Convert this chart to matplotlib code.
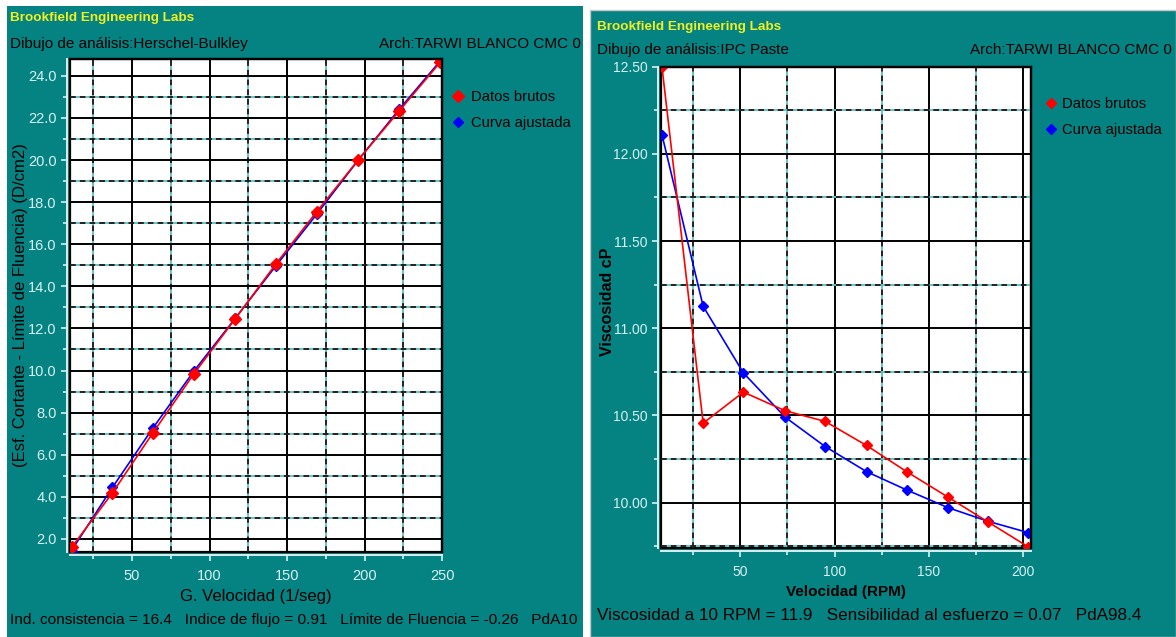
import numpy as np
import matplotlib
matplotlib.use("Agg")
from matplotlib import pyplot as plt
from matplotlib.patches import Rectangle
from matplotlib.ticker import MultipleLocator, FormatStrFormatter
from matplotlib.lines import Line2D

# --- datos del panel izquierdo (Herschel-Bulkley) ---
hb_vel = [11, 37.4, 63.4, 90, 116.6, 142.8, 169.1, 196, 222.4, 249]
hb_brutos = [1.6, 4.19, 7.03, 9.85, 12.46, 15.06, 17.54, 20.01, 22.33, 24.66]
hb_ajust = [1.45, 4.45, 7.26, 9.98, 12.48, 14.97, 17.42, 20.0, 22.41, 24.72]

# --- datos del panel derecho (IPC Paste) ---
ipc_rpm = [8.3, 30.2, 51.6, 73.8, 95, 117, 138.3, 160.4, 181.6, 203]
ipc_brutos = [12.5, 10.456, 10.634, 10.527, 10.466, 10.328, 10.178, 10.031, 9.889, 9.746]
ipc_ajust = [12.11, 11.126, 10.744, 10.49, 10.322, 10.178, 10.073, 9.971, 9.893, 9.828]

W, H = 1176, 637
TEAL = "#058282"
LIGHT = "#d6f2f2"
plt.rcParams["font.family"] = ["Liberation Sans", "DejaVu Sans"]


def fx(x):
    return x / W


def fy(y):
    return 1 - y / H


def ejes(fig, x0, x1, y0, y1, tsize):
    ax = fig.add_axes([fx(x0), fy(y1), fx(x1 - x0), (y1 - y0) / H])
    ax.set_facecolor("white")
    ax.patch.set_edgecolor("black")
    ax.patch.set_linewidth(1.6)
    for s in ["left", "bottom"]:
        ax.spines[s].set_position(("outward", 2.5))
        ax.spines[s].set_color(LIGHT)
        ax.spines[s].set_linewidth(1.4)
    for s in ["top", "right"]:
        ax.spines[s].set_color("black")
        ax.spines[s].set_linewidth(1.6)
    ax.tick_params(which="both", colors=LIGHT, labelcolor=LIGHT, labelsize=tsize, width=1.2)
    ax.tick_params(which="major", length=4)
    ax.tick_params(which="minor", length=3)
    ax.tick_params(axis="x", pad=6)
    ax.tick_params(axis="y", pad=3)
    ax.grid(True, which="major", color="black", linewidth=1.4, linestyle="-")
    ax.grid(True, which="minor", color="#202020", linewidth=1.4, linestyle=(0, (3, 2)),
            gapcolor="#5cc8c8")
    ax.set_axisbelow(True)
    return ax


fig = plt.figure(figsize=(W / 100, H / 100), dpi=100, facecolor="white")

# fondos de los paneles
fig.add_artist(Rectangle((fx(7), 0), fx(583 - 7), fy(6), transform=fig.transFigure,
                         facecolor=TEAL, edgecolor="none", zorder=0))
fig.add_artist(Rectangle((fx(590), 0), fx(W - 590), fy(10), transform=fig.transFigure,
                         facecolor=TEAL, edgecolor="#c8c8c8", linewidth=1, zorder=0))

# ---------- panel izquierdo ----------
ax1 = ejes(fig, 70, 442, 59, 552, 10.5)
ax1.set_xlim(10, 250)
ax1.set_ylim(1.38, 24.8)
ax1.xaxis.set_major_locator(MultipleLocator(50))
ax1.xaxis.set_minor_locator(MultipleLocator(25))
ax1.yaxis.set_major_locator(MultipleLocator(2))
ax1.yaxis.set_minor_locator(MultipleLocator(1))
ax1.yaxis.set_major_formatter(FormatStrFormatter("%.1f"))
ax1.plot(hb_vel, hb_ajust, "-D", color="blue", markersize=5, linewidth=1.2)
ax1.plot(hb_vel, hb_brutos, "-D", color="red", markersize=6, linewidth=1.2)

fig.text(fx(10), fy(18), "Brookfield Engineering Labs", color="#f0f020", fontsize=9.7,
         fontweight="bold", va="center")
fig.text(fx(10), fy(44), "Dibujo de análisis:Herschel-Bulkley", color="black",
         fontsize=11, va="center")
fig.text(fx(581), fy(44), "Arch:TARWI BLANCO CMC 0", color="black", fontsize=11,
         va="center", ha="right")
fig.text(fx(21), fy(305), "(Esf. Cortante - Límite de Fluencia) (D/cm2)", color="black",
         fontsize=12, rotation=90, va="center", ha="center")
fig.text(fx(256), fy(597), "G. Velocidad (1/seg)", color="black", fontsize=12,
         va="center", ha="center")
fig.text(fx(10), fy(620),
         "Ind. consistencia = 16.4   Indice de flujo = 0.91   Límite de Fluencia = -0.26   PdA10",
         color="black", fontsize=11.1, va="center")

h1 = [Line2D([], [], color="red", marker="D", linestyle="", markersize=6),
      Line2D([], [], color="blue", marker="D", linestyle="", markersize=5)]
fig.legend(h1, ["Datos brutos", "Curva ajustada"], loc="upper left",
           bbox_to_anchor=(fx(446), fy(84)), frameon=False, fontsize=10.6,
           handlelength=0.8, handletextpad=0.5, labelspacing=0.85, borderaxespad=0)

# ---------- panel derecho ----------
ax2 = ejes(fig, 661, 1031, 66.7, 548, 10)
ax2.set_xlim(7.8, 204.4)
ax2.set_ylim(9.74, 12.5)
ax2.xaxis.set_major_locator(MultipleLocator(50))
ax2.xaxis.set_minor_locator(MultipleLocator(25))
ax2.yaxis.set_major_locator(MultipleLocator(0.5))
ax2.yaxis.set_minor_locator(MultipleLocator(0.25))
ax2.yaxis.set_major_formatter(FormatStrFormatter("%.2f"))
ax2.plot(ipc_rpm, ipc_ajust, "-D", color="blue", markersize=5, linewidth=1.2)
ax2.plot(ipc_rpm, ipc_brutos, "-D", color="red", markersize=5, linewidth=1.2)

fig.text(fx(597), fy(27), "Brookfield Engineering Labs", color="#f0f020", fontsize=9.7,
         fontweight="bold", va="center")
fig.text(fx(597), fy(50), "Dibujo de análisis:IPC Paste", color="black",
         fontsize=11, va="center")
fig.text(fx(1172), fy(50), "Arch:TARWI BLANCO CMC 0", color="black", fontsize=11,
         va="center", ha="right")
fig.text(fx(607), fy(302), "Viscosidad cP", color="black", fontsize=11.5,
         fontweight="bold", rotation=90, va="center", ha="center")
fig.text(fx(846), fy(592), "Velocidad (RPM)", color="black", fontsize=11,
         fontweight="bold", va="center", ha="center")
fig.text(fx(597), fy(615),
         "Viscosidad a 10 RPM = 11.9   Sensibilidad al esfuerzo = 0.07   PdA98.4",
         color="black", fontsize=12.3, va="center")

h2 = [Line2D([], [], color="red", marker="D", linestyle="", markersize=5),
      Line2D([], [], color="blue", marker="D", linestyle="", markersize=5)]
fig.legend(h2, ["Datos brutos", "Curva ajustada"], loc="upper left",
           bbox_to_anchor=(fx(1040), fy(91)), frameon=False, fontsize=10.6,
           handlelength=0.7, handletextpad=0.4, labelspacing=0.85, borderaxespad=0)

plt.savefig("out.png", dpi=100, facecolor="white")
